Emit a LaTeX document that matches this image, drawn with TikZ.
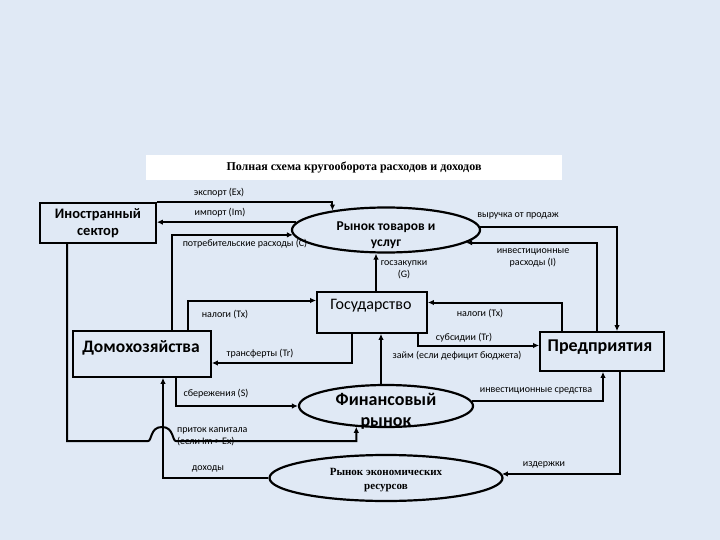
\documentclass[tikz,border=0pt]{standalone}
\usepackage{fontspec}
\setmainfont{Carlito}
\newfontfamily\serifb{Liberation Serif}
\usetikzlibrary{shapes.geometric,arrows.meta}
\definecolor{bg}{RGB}{224,233,245}
\begin{document}
\begin{tikzpicture}[x=1pt,y=-1pt,
  box/.style={draw, line width=1.8pt, fill=bg, inner sep=0pt},
  ell/.style={ellipse, draw, line width=2.2pt, fill=bg, inner sep=0pt},
  arr/.style={line width=2pt, -{Latex[length=6pt,width=5.5pt]}},
  lbl/.style={font=\fontsize{10}{12}\selectfont, inner sep=0pt},
  ttl/.style={inner sep=0pt}]
\fill[bg] (0,0) rectangle (720,540);
\useasboundingbox (0,0) rectangle (720,540);

\node[fill=white, minimum width=416pt, minimum height=25pt, inner sep=0pt,
  font=\serifb\bfseries\fontsize{12}{14}\selectfont] (title) at (354,167.5)
  {Полная схема кругооборота расходов и доходов};

\node[box, minimum width=116pt, minimum height=40pt, align=center,
  font=\bfseries\fontsize{14.5}{17}\selectfont] (fs) at (98,223) {Иностранный\\сектор};

\node[box, minimum width=138pt, minimum height=46pt] (hh) at (142,354) {};
\node[ttl, font=\bfseries\fontsize{17.5}{19}\selectfont] (hhT) at (141,348) {Домохозяйства};

\node[box, minimum width=110pt, minimum height=41pt] (gov) at (372,312.5) {};
\node[ttl, font=\fontsize{16}{19}\selectfont] (govT) at (371,306) {Государство};

\node[box, minimum width=124pt, minimum height=39pt] (ent) at (602,351.5) {};
\node[ttl, font=\bfseries\fontsize{18}{20}\selectfont] (entT) at (600,347) {Предприятия};

\node[ell, minimum width=188pt, minimum height=45pt] (gm) at (386,230) {};
\node[ttl, align=center, font=\bfseries\fontsize{13.5}{16}\selectfont] (gmT) at (386,235) {Рынок товаров и\\услуг};

\node[ell, minimum width=174pt, minimum height=42pt] (fm) at (386,406) {};

\node[ell, minimum width=233pt, minimum height=46pt] (rm) at (386,478) {};
\node[ttl, align=center, font=\serifb\bfseries\fontsize{11}{14}\selectfont] (rmT) at (386,480) {Рынок экономических\\ресурсов};

% connectors
\draw[arr] (fs.north east) -| (gm.160);
\draw[arr] (gm.175.5) -- (gm.175.5 -| fs.east);
\draw[arr] ([xshift=30pt]hh.north) |- (gm.183);
\draw[arr] ([xshift=4pt]gov.north) -- ([xshift=4pt]gov.north |- gm.south);
\draw[arr] (gm.2.5) -| ([xshift=15pt]ent.north);
\draw[arr] ([xshift=-5pt]ent.north) |- (gm.-9);
\draw[arr] ([xshift=46pt]hh.north) |- ([yshift=12pt]gov.west);
\draw[arr] ([xshift=-20pt]gov.south) |- ([yshift=-9pt]hh.east);
\draw[arr] ([xshift=-40pt]ent.north) |- ([yshift=10pt]gov.east);
\draw[arr] ([xshift=46pt]gov.south) |- ([yshift=6pt]ent.west);
\draw[arr] ([xshift=-5pt]fm.north) -- ([xshift=-5pt]fm.north |- gov.south);
\draw[arr] ([xshift=34pt]hh.south) |- (fm.west);
\draw[arr] (fm.3) -| ([xshift=1pt]ent.south);
\draw[arr] ([xshift=-31pt]fs.south) |- (148,441)
  .. controls (152,441) and (150,427) .. (162,427)
  .. controls (174,427) and (172,441) .. (176,441)
  -| (fm.215.4);
\draw[arr] (rm.west) -| ([xshift=21pt]hh.south);
\draw[arr] ([xshift=18pt]ent.south) |- (rm.2);

\node[ttl, align=center, font=\bfseries\fontsize{18}{21}\selectfont] (fmT) at (386,411) {Финансовый\\рынок};

% labels
\node[lbl] (lex) at (219,193) {экспорт (Ex)};
\node[lbl] (lim) at (220,213) {импорт (Im)};
\node[lbl] (lc) at (245,244) {потребительские расходы (C)};
\node[lbl, align=center] (lg) at (404,270) {госзакупки\\(G)};
\node[lbl] (lrev) at (518,216) {выручка от продаж};
\node[lbl, align=center] (linv) at (533,258) {инвестиционные\\расходы (I)};
\node[lbl] (ltx1) at (225,315) {налоги (Tx)};
\node[lbl] (ltr) at (260,354) {трансферты (Tr)};
\node[lbl] (ltx2) at (480,314) {налоги (Tx)};
\node[lbl] (lsub) at (464,338) {субсидии (Tr)};
\node[lbl] (lloan) at (457,356) {займ (если дефицит бюджета)};
\node[lbl] (lsav) at (216,394) {сбережения (S)};
\node[lbl] (linvf) at (536,391) {инвестиционные средства};
\node[lbl, align=left, anchor=north west] (lcap) at (177,427) {приток капитала\\(если Im > Ex)};
\node[lbl] (linc) at (208,469) {доходы};
\node[lbl] (lcost) at (544,465) {издержки};
\end{tikzpicture}
\end{document}
